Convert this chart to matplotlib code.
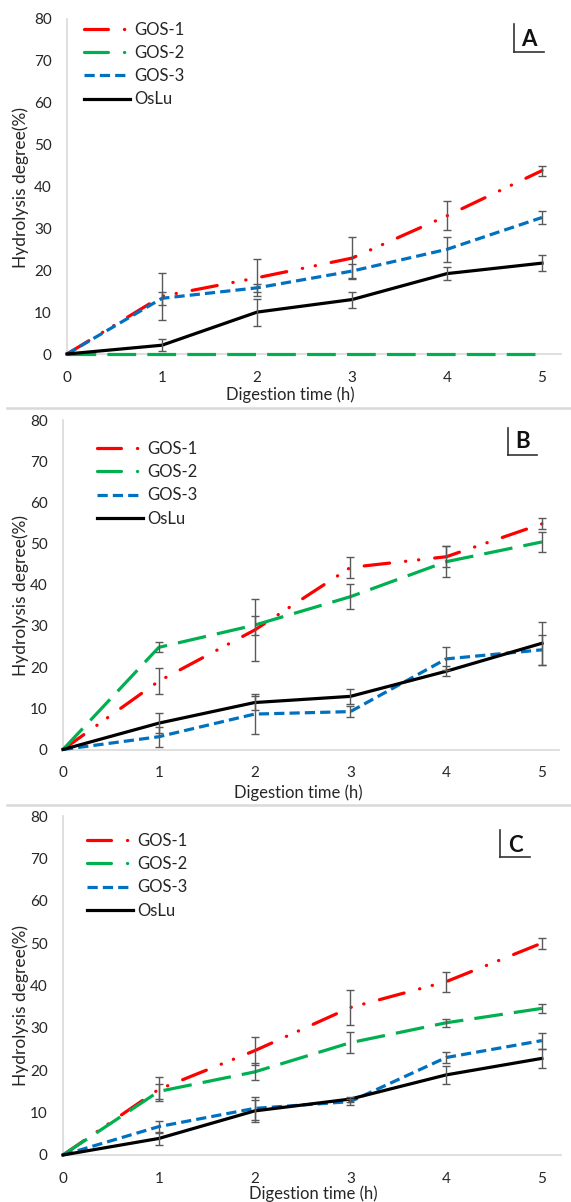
import numpy as np
import matplotlib
matplotlib.use("Agg")
import matplotlib.pyplot as plt
from matplotlib.lines import Line2D

plt.rcParams['font.family'] = ['Lato', 'DejaVu Sans']

t = [0, 1, 2, 3, 4, 5]
series = ["GOS-1", "GOS-2", "GOS-3", "OsLu"]

# panel A
A_gos1 = [0, 13.8, 18.2, 22.9, 33.0, 43.8]
A_gos1_err = [0, 5.6, 4.4, 5.0, 3.5, 1.2]
A_gos2 = [0, 0, 0, 0, 0, 0]
A_gos2_err = [0, 0, 0, 0, 0, 0]
A_gos3 = [0, 13.3, 15.8, 19.8, 25.0, 32.6]
A_gos3_err = [0, 1.6, 1.0, 1.6, 3.0, 1.6]
A_oslu = [0, 2.1, 10.0, 13.0, 19.2, 21.7]
A_oslu_err = [0, 1.5, 3.2, 1.9, 1.6, 1.9]

# panel B
B_gos1 = [0, 16.6, 29.0, 44.2, 46.8, 54.8]
B_gos1_err = [0, 3.2, 7.5, 2.6, 2.6, 1.3]
B_gos2 = [0, 24.8, 30.2, 37.1, 45.6, 50.4]
B_gos2_err = [0, 1.2, 2.3, 3.1, 3.8, 2.4]
B_gos3 = [0, 3.1, 8.6, 9.2, 22.0, 24.2]
B_gos3_err = [0, 2.4, 4.8, 1.4, 2.8, 3.6]
B_oslu = [0, 6.4, 11.4, 12.9, 19.0, 25.8]
B_oslu_err = [0, 2.4, 1.7, 1.8, 1.2, 5.2]

# panel C
C_gos1 = [0, 15.5, 24.6, 34.8, 40.9, 50.0]
C_gos1_err = [0, 2.8, 3.3, 4.2, 2.4, 1.3]
C_gos2 = [0, 15.0, 19.6, 26.5, 31.2, 34.6]
C_gos2_err = [0, 1.8, 2.0, 2.5, 0.9, 1.0]
C_gos3 = [0, 6.7, 11.0, 12.6, 23.0, 27.0]
C_gos3_err = [0, 1.4, 2.7, 0.7, 1.2, 1.9]
C_oslu = [0, 3.9, 10.4, 13.2, 18.9, 22.8]
C_oslu_err = [0, 1.6, 2.5, 0.6, 2.1, 2.3]

colors = ["#ff0000", "#00b050", "#0070c0", "#000000"]
styles = [(0, (8, 5, 0.1, 4, 0.1, 5)), (0, (9, 3.5)), (0, (3.2, 1.6)), "-"]
leg_styles = [(0, (7.5, 5, 0.1, 5)), (0, (7.5, 5, 0.1, 5)), (0, (3.2, 1.6)), "-"]
caps = ["round", "butt", "butt", "butt"]
leg_caps = ["round", "round", "butt", "butt"]

W, H = 571, 1202
fig = plt.figure(figsize=(W / 100, H / 100), dpi=100)

panels = [
    dict(name="A", data=[(A_gos1, A_gos1_err), (A_gos2, A_gos2_err), (A_gos3, A_gos3_err), (A_oslu, A_oslu_err)],
         box=(67, 561, 19, 354), xmax=5.2, xlab=(290, 395), ylab=(21, 188),
         leg=(84, 22), tag=(514, 24, 52, 544, 529, 39)),
    dict(name="B", data=[(B_gos1, B_gos1_err), (B_gos2, B_gos2_err), (B_gos3, B_gos3_err), (B_oslu, B_oslu_err)],
         box=(63, 559, 420, 749.5), xmax=5.177, xlab=(298, 793), ylab=(21, 596),
         leg=(97, 441), tag=(508, 428, 455, 537, 523, 442)),
    dict(name="C", data=[(C_gos1, C_gos1_err), (C_gos2, C_gos2_err), (C_gos3, C_gos3_err), (C_oslu, C_oslu_err)],
         box=(63, 561, 816, 1155), xmax=5.2, xlab=(313, 1194), ylab=(21, 1005),
         leg=(87, 833), tag=(500, 830, 857, 530, 515, 845)),
]

for p in panels:
    x0, x1, ytop, ybot = p["box"]
    ax = fig.add_axes([x0 / W, 1 - ybot / H, (x1 - x0) / W, (ybot - ytop) / H])
    for (vals, err), c, ls, cs in zip(p["data"], colors, styles, caps):
        ax.plot(t, vals, color=c, lw=2.3, linestyle=ls, dash_capstyle=cs, zorder=2, clip_on=False)
    for vals, err in p["data"]:
        idx = [i for i in range(len(t)) if err[i] > 0]
        if idx:
            ax.errorbar([t[i] for i in idx], [vals[i] for i in idx], yerr=[err[i] for i in idx],
                        fmt="none", ecolor="#595959", elinewidth=1.0, capsize=3.2, capthick=1.0, zorder=3)
    ax.set_xlim(0, p["xmax"])
    ax.set_ylim(0, 80)
    ax.set_xticks(t)
    ax.set_yticks(range(0, 81, 10))
    ax.tick_params(length=0, labelsize=11, labelcolor="#262626")
    ax.tick_params(axis="x", pad=12)
    ax.tick_params(axis="y", pad=11)
    for s in ["top", "right"]:
        ax.spines[s].set_visible(False)
    for s in ["left", "bottom"]:
        ax.spines[s].set_color("#d9d9d9")
        ax.spines[s].set_linewidth(1.2)
        ax.spines[s].set_zorder(1)
    ax.patch.set_alpha(0)

    fig.text(p["xlab"][0] / W, 1 - p["xlab"][1] / H, "Digestion time (h)", ha="center", va="center",
             fontsize=12, color="#262626")
    fig.text(p["ylab"][0] / W, 1 - p["ylab"][1] / H, "Hydrolysis degree(%)", ha="center", va="center",
             rotation=90, fontsize=12.5, color="#262626")

    handles = [Line2D([], [], color=c, lw=2.3, linestyle=ls, dash_capstyle=cs)
               for c, ls, cs in zip(colors, leg_styles, leg_caps)]
    lx, ly = p["leg"]
    fig.legend(handles, series, loc="upper left", bbox_to_anchor=(lx / W, 1 - ly / H),
               frameon=False, fontsize=12, handlelength=2.75, handletextpad=0.25,
               labelspacing=0.43, borderpad=0, borderaxespad=0, labelcolor="#262626")

    vx, vt, vb, hx, tx, ty = p["tag"]
    fig.add_artist(Line2D([vx / W, vx / W], [1 - vt / H, 1 - vb / H], color="#333333", lw=1.2))
    fig.add_artist(Line2D([vx / W, hx / W], [1 - vb / H, 1 - vb / H], color="#333333", lw=1.2))
    fig.text(tx / W, 1 - ty / H, p["name"], ha="center", va="center", fontsize=16,
             fontweight="bold", color="#111111")

# separators between panels
for yy in [408, 805]:
    fig.add_artist(Line2D([7 / W, 1], [1 - yy / H, 1 - yy / H], color="#d9d9d9", lw=1.8))

fig.savefig("out.png", dpi=100)
